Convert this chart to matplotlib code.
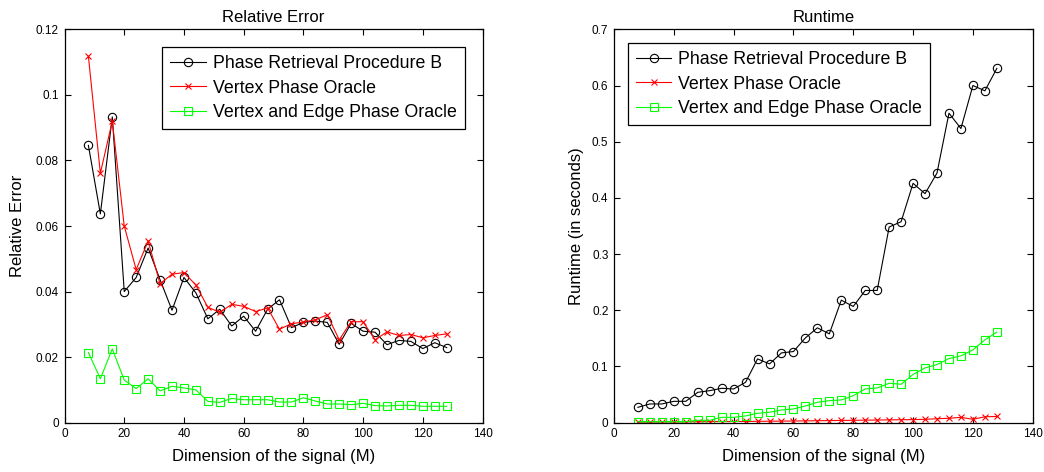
import numpy as np
import matplotlib
matplotlib.use("Agg")
import matplotlib.pyplot as plt

plt.rcParams['font.family'] = ['Liberation Sans', 'DejaVu Sans']

# signal dimension M
M = list(range(8, 129, 4))

labels = ['Phase Retrieval Procedure B', 'Vertex Phase Oracle',
          'Vertex and Edge Phase Oracle']

# relative error
err_b = [0.0846, 0.0637, 0.0933, 0.0400, 0.0443, 0.0533, 0.0436, 0.0343,
         0.0443, 0.0396, 0.0317, 0.0346, 0.0295, 0.0325, 0.0279, 0.0346,
         0.0375, 0.0290, 0.0306, 0.0310, 0.0306, 0.0239, 0.0303, 0.0279,
         0.0276, 0.0238, 0.0251, 0.0248, 0.0226, 0.0244, 0.0229]
err_v = [0.1118, 0.0761, 0.0920, 0.0600, 0.0467, 0.0554, 0.0424, 0.0453,
         0.0458, 0.0420, 0.0352, 0.0337, 0.0361, 0.0355, 0.0339, 0.0350,
         0.0285, 0.0302, 0.0307, 0.0314, 0.0329, 0.0253, 0.0308, 0.0308,
         0.0253, 0.0277, 0.0266, 0.0269, 0.0259, 0.0266, 0.0271]
err_ve = [0.0214, 0.0134, 0.0225, 0.0130, 0.0104, 0.0134, 0.0097, 0.0111,
          0.0106, 0.0100, 0.0065, 0.0062, 0.0074, 0.0070, 0.0070, 0.0070,
          0.0063, 0.0063, 0.0076, 0.0066, 0.0057, 0.0057, 0.0055, 0.0059,
          0.0052, 0.0051, 0.0053, 0.0053, 0.0050, 0.0050, 0.0050]

# runtime in seconds
rt_b = [0.0273, 0.0333, 0.0333, 0.0380, 0.0380, 0.0540, 0.0570, 0.0612,
        0.0600, 0.0719, 0.1135, 0.1046, 0.1242, 0.1266, 0.1509, 0.1688,
        0.1581, 0.2181, 0.2068, 0.2353, 0.2353, 0.3482, 0.3577, 0.4260,
        0.4076, 0.4444, 0.5508, 0.5235, 0.6001, 0.5906, 0.6305]
rt_v = [0.0010, 0.0010, 0.0012, 0.0013, 0.0015, 0.0016, 0.0018, 0.0020,
        0.0020, 0.0022, 0.0024, 0.0026, 0.0028, 0.0030, 0.0032, 0.0035,
        0.0037, 0.0040, 0.0042, 0.0045, 0.0047, 0.0050, 0.0052, 0.0055,
        0.0060, 0.0070, 0.0078, 0.0095, 0.0060, 0.0105, 0.0110]
rt_ve = [0.0018, 0.0018, 0.0018, 0.0018, 0.0018, 0.0042, 0.0042, 0.0095,
         0.0095, 0.0120, 0.0167, 0.0185, 0.0226, 0.0244, 0.0297, 0.0363,
         0.0392, 0.0404, 0.0481, 0.0600, 0.0618, 0.0702, 0.0684, 0.0859,
         0.0975, 0.1034, 0.1141, 0.1189, 0.1296, 0.1474, 0.1611]

fig = plt.figure(figsize=(10.44, 4.72), dpi=100)
ax1 = fig.add_axes([0.0618, 0.1045, 0.4004, 0.8333])
ax2 = fig.add_axes([0.5881, 0.1045, 0.4011, 0.8333])


def draw(ax, b, v, ve):
    ax.plot(M, b, color='k', lw=0.8, marker='o', ms=6, mfc='none', mew=0.8)
    ax.plot(M, v, color='#ff0000', lw=0.8, marker='x', ms=5, mew=0.8)
    ax.plot(M, ve, color='#00ff00', lw=0.8, marker='s', ms=6, mfc='none', mew=0.8)
    ax.set_xlim(0, 140)
    ax.set_xticks(range(0, 141, 20))
    ax.tick_params(direction='in', length=4, width=0.8, top=True, right=True,
                   labelsize=8.5, pad=4)
    for s in ax.spines.values():
        s.set_linewidth(0.9)
    ax.set_xlabel('Dimension of the signal (M)', fontsize=12, labelpad=6)


def add_legend(ax, loc, anchor):
    leg = ax.legend(labels, loc=loc, bbox_to_anchor=anchor,
                    fontsize=12.8, fancybox=False, framealpha=1, edgecolor='k',
                    handlelength=2.0, handletextpad=0.4, borderpad=0.45,
                    labelspacing=0.42, borderaxespad=0)
    leg.get_frame().set_linewidth(0.9)


draw(ax1, err_b, err_v, err_ve)
ax1.set_ylim(0, 0.12)
ax1.set_yticks([0, 0.02, 0.04, 0.06, 0.08, 0.1, 0.12])
ax1.set_yticklabels(['0', '0.02', '0.04', '0.06', '0.08', '0.1', '0.12'])
ax1.set_ylabel('Relative Error', fontsize=12, labelpad=8)
ax1.set_title('Relative Error', fontsize=12, pad=5)
add_legend(ax1, 'upper right', (0.958, 0.955))

draw(ax2, rt_b, rt_v, rt_ve)
ax2.set_ylim(0, 0.7)
ax2.set_yticks([0, 0.1, 0.2, 0.3, 0.4, 0.5, 0.6, 0.7])
ax2.set_yticklabels(['0', '0.1', '0.2', '0.3', '0.4', '0.5', '0.6', '0.7'])
ax2.set_ylabel('Runtime (in seconds)', fontsize=12, labelpad=6)
ax2.set_title('Runtime', fontsize=12, pad=5)
add_legend(ax2, 'upper left', (0.033, 0.965))

fig.savefig('out.png', dpi=100)
